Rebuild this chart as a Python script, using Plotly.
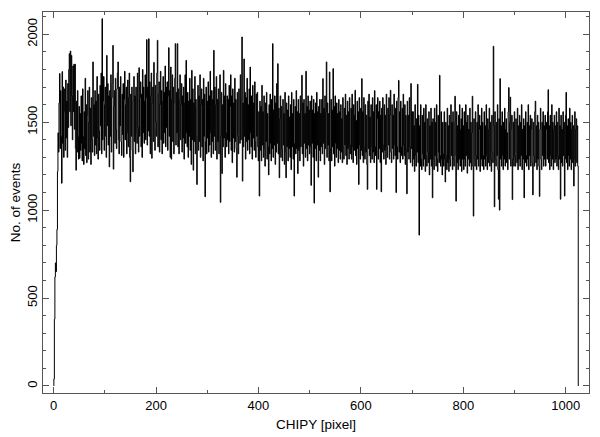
import numpy as np
import plotly.graph_objects as go

# counts per CHIPY pixel (1..1024), read/
counts = [
    40, 380, 620, 700, 650, 800, 890, 1220, 1440, 1330, 1610, 1777, 1350, 1680, 1420, 1153, 1788, 1380, 1700, 1300,
    1560, 1690, 1340, 1740, 1410, 1620, 1300, 1720, 1470, 1800, 1890, 1560, 1905, 1480, 1880, 1650, 1400, 1820, 1560, 1830,
    1460, 1830, 1350, 1227, 1620, 1330, 1680, 1420, 1290, 1590, 1295, 1550, 1340, 1650, 1380, 1280, 1690, 1420, 1260, 1560,
    1350, 1750, 1310, 1600, 1270, 1540, 1680, 1290, 1500, 1700, 1330, 1580, 1260, 1640, 1400, 1330, 1843, 1420, 1600, 1310,
    1680, 1370, 1620, 1320, 1760, 1410, 1290, 1660, 1450, 1340, 1710, 1480, 1780, 1320, 2089, 1400, 1620, 1760, 1340, 1600,
    1700, 1420, 1300, 1880, 1480, 1720, 1370, 1650, 1246, 1680, 1420, 1770, 1330, 1640, 1720, 1937, 1233, 1590, 1680, 1380,
    1750, 1460, 1350, 1690, 1780, 1843, 1400, 1320, 1700, 1480, 1760, 1390, 1310, 1660, 1430, 1720, 1300, 1630, 1790, 1400,
    1600, 1700, 1320, 1440, 1740, 1360, 1640, 1780, 1300, 1161, 1660, 1420, 1700, 1340, 1218, 1620, 1760, 1390, 1650, 1320,
    1700, 1440, 1380, 1780, 1470, 1330, 1810, 1420, 1640, 1730, 1360, 1660, 1300, 1800, 1440, 1700, 1380, 1620, 1770, 1400,
    1640, 1970, 1370, 1700, 1450, 1975, 1420, 1730, 1320, 1650, 1780, 1295, 1610, 1700, 1390, 1840, 1460, 1340, 1710, 1500,
    1420, 1780, 1966, 1360, 1660, 1730, 1330, 1600, 1790, 1400, 1680, 1320, 1620, 1760, 1380, 1670, 1440, 1820, 1360, 1700,
    1470, 1730, 1340, 1650, 1924, 1420, 1680, 1300, 1814, 1290, 1630, 1770, 1390, 1700, 1320, 1610, 1750, 1947, 1370, 1670,
    1440, 1947, 1360, 1690, 1320, 1630, 1770, 1400, 1600, 1720, 1330, 1650, 1410, 1700, 1290, 1610, 1770, 1380, 1852, 1440,
    1360, 1670, 1300, 1620, 1420, 1750, 1340, 1630, 1260, 1795, 1400, 1690, 1227, 1610, 1390, 1760, 1320, 1630, 1420, 1146,
    1580, 1710, 1340, 1650, 1390, 1770, 1300, 1600, 1690, 1360, 1630, 1280, 1750, 1420, 1660, 1076, 1390, 1700, 1320, 1620,
    1410, 1730, 1330, 1650, 1370, 1790, 1440, 1300, 1680, 1390, 1630, 1320, 1909, 1420, 1700, 1340, 1600, 1760, 1290, 1630,
    1390, 1690, 1320, 1610, 1770, 1044, 1420, 1670, 1208, 1600, 1360, 1795, 1410, 1650, 1300, 1720, 1440, 1360, 1650, 1400,
    1630, 1320, 1710, 1390, 1590, 1770, 1340, 1650, 1270, 1690, 1410, 1610, 1330, 1750, 1390, 1630, 1350, 1187, 1670, 1420,
    1320, 1690, 1440, 1380, 1770, 1400, 1630, 1985, 1165, 1610, 1360, 1860, 1420, 1670, 1290, 1640, 1390, 1750, 1340, 1600,
    1400, 1690, 1320, 1814, 1440, 1360, 1650, 1290, 1710, 1410, 1610, 1340, 1730, 1390, 1300, 1660, 1420, 1670, 1360, 1280,
    1560, 1080, 1620, 1340, 1590, 1280, 1710, 1370, 1560, 1300, 1650, 1350, 1250, 1610, 1390, 1670, 1290, 1550, 1360, 1200,
    1600, 1320, 1660, 1380, 1280, 1630, 1350, 1947, 1300, 1570, 1370, 1650, 1260, 1610, 1330, 1720, 1380, 1833, 1320, 1580,
    1184, 1520, 1650, 1300, 1590, 1350, 1280, 1630, 1370, 1550, 1260, 1670, 1330, 1184, 1610, 1360, 1570, 1280, 1650, 1350,
    1530, 1300, 1600, 1230, 1670, 1360, 1550, 1290, 1630, 1080, 1380, 1590, 1320, 1680, 1350, 1560, 1208, 1630, 1340, 1550,
    1280, 1650, 1360, 1570, 1767, 1320, 1610, 1250, 1630, 1380, 1550, 1300, 1790, 1350, 1590, 1280, 1650, 1370, 1570, 1320,
    1620, 1360, 1141, 1650, 1380, 1570, 1300, 1630, 1040, 1550, 1350, 1610, 1280, 1670, 1370, 1560, 1187, 1590, 1340, 1630,
    1280, 1550, 1360, 1630, 1320, 1748, 1380, 1580, 1260, 1650, 1350, 1560, 1843, 1300, 1610, 1370, 1550, 1280, 1786, 1104,
    1350, 1630, 1280, 1570, 1360, 1805, 1320, 1590, 1250, 1650, 1380, 1300, 1610, 1350, 1550, 1270, 1630, 1340, 1560, 1290,
    1600, 1330, 1520, 1270, 1640, 1360, 1290, 1580, 1370, 1660, 1310, 1540, 1260, 1620, 1350, 1560, 1290, 1640, 1370, 1320,
    1580, 1290, 1660, 1360, 1270, 1600, 1340, 1540, 1682, 1310, 1510, 1260, 1620, 1350, 1560, 1146, 1640, 1370, 1290, 1580,
    1340, 1748, 1310, 1560, 1270, 1640, 1360, 1290, 1600, 1330, 1540, 1260, 1118, 1620, 1350, 1660, 1310, 1530, 1270, 1600,
    1360, 1290, 1640, 1330, 1560, 1270, 1680, 1360, 1310, 1600, 1118, 1520, 1640, 1290, 1560, 1350, 1620, 1270, 1540, 1104,
    1580, 1330, 1640, 1370, 1290, 1600, 1340, 1540, 1260, 1660, 1360, 1300, 1580, 1370, 1640, 1290, 1540, 1682, 1330, 1270,
    1600, 1350, 1540, 1290, 1660, 1370, 1310, 1580, 1100, 1620, 1360, 1290, 1640, 1738, 1330, 1560, 1270, 1620, 1360, 1310,
    1580, 1290, 1660, 1370, 1310, 1600, 1260, 1540, 1350, 1093, 1620, 1330, 1540, 1290, 1640, 1360, 1270, 1720, 1350, 1560,
    1250, 1560, 1290, 1480, 1220, 1600, 1310, 1250, 1520, 1330, 1716, 1270, 1540, 858, 1480, 1250, 1600, 1290, 1230, 1540,
    1320, 1250, 1580, 1290, 1500, 1220, 1600, 1310, 1250, 1520, 1330, 1270, 1560, 1200, 1480, 1290, 1580, 1250, 1500, 1070,
    1520, 1290, 1230, 1580, 1310, 1500, 1250, 1600, 1290, 1220, 1540, 1330, 1270, 1767, 1310, 1250, 1560, 1290, 1200, 1500,
    1320, 1250, 1560, 1290, 1160, 1500, 1310, 1230, 1580, 1270, 1480, 1220, 1540, 1290, 1250, 1600, 1310, 1500, 1230, 1560,
    1290, 1250, 1500, 1648, 1310, 1051, 1560, 1270, 1480, 1230, 1540, 1290, 1600, 1250, 1460, 1520, 1220, 1580, 1290, 1480,
    1230, 1560, 1290, 1250, 1600, 1310, 1500, 1210, 1540, 1290, 1460, 1250, 1580, 1270, 1500, 1230, 1440, 1648, 1250, 966,
    1520, 1290, 1250, 1560, 1310, 1230, 1500, 1290, 1600, 1250, 1460, 1540, 1220, 1480, 1290, 1580, 1250, 1500, 1310, 1230,
    1560, 1290, 1480, 1250, 1600, 1310, 1230, 1520, 1270, 1460, 1580, 1250, 1500, 1290, 1220, 1540, 1330, 1270, 1932, 1480,
    1019, 1560, 1290, 1250, 1500, 1310, 1600, 1230, 1062, 1520, 1000, 1748, 1290, 1480, 1250, 1560, 1310, 1230, 1500, 1290,
    1580, 1250, 1460, 1520, 1270, 1440, 1230, 1560, 1697, 1290, 1500, 1643, 1250, 1460, 1540, 1060, 1290, 1500, 1250, 1560,
    1310, 1250, 1520, 1330, 1270, 1580, 1230, 1480, 1290, 1540, 1250, 1500, 1310, 1600, 1230, 1460, 1290, 1520, 1070, 1480,
    1270, 1560, 1310, 1250, 1500, 1290, 1600, 1230, 1480, 1310, 1540, 1250, 1460, 1520, 1270, 1087, 1500, 1310, 1250, 1560,
    1620, 1270, 1480, 1230, 1540, 1290, 1500, 1250, 1078, 1460, 1580, 1290, 1230, 1500, 1310, 1560, 1250, 1480, 1290, 1540,
    1250, 1460, 1500, 1290, 1560, 1685, 1270, 1480, 1230, 1540, 1310, 1250, 1600, 1290, 1500, 1230, 1460, 1540, 1270, 1480,
    1290, 1560, 1250, 1500, 1310, 1230, 1580, 1290, 1480, 1062, 1540, 1270, 1460, 1250, 1560, 1310, 1500, 1080, 1290, 1540,
    1670, 1270, 1480, 1230, 1520, 1310, 1250, 1580, 1290, 1500, 1230, 1460, 1540, 1270, 1480, 1137, 1290, 1560, 1250, 1460,
    1520, 1270, 1480, 1250,
]
pixels = np.arange(1, len(counts) + 1)

x_tickvals = [0, 200, 400, 600, 800, 1000]
y_tickvals = [0, 500, 1000, 1500, 2000]

# step-histogram outline: rise from 0 at the first bin edge, drop to 0 after the last
x_step = np.concatenate([[pixels[0] - 0.5], pixels - 0.5, [pixels[-1] + 0.5, pixels[-1] + 0.5]])
y_step = np.concatenate([[0], counts, [counts[-1], 0]])

fig = go.Figure(go.Scatter(
    x=x_step, y=y_step, mode="lines", line_shape="hv",
    line=dict(color="black", width=1), hoverinfo="skip", showlegend=False,
))

font = "Liberation Sans, Arial, Helvetica, sans-serif"
axis_common = dict(
    showline=True, linecolor="#555", linewidth=1.2, mirror="ticks",
    ticks="inside", ticklen=6, tickcolor="#555", tickwidth=1,
    showgrid=False, zeroline=False, automargin=False,
    tickfont=dict(family=font, size=13, color="black"),
)

# margins compensate for the page's default 8px body offset
fig.update_layout(
    width=600, height=437,
    margin=dict(l=35, r=19, t=4, b=52),
    paper_bgcolor="white", plot_bgcolor="white",
    font=dict(family=font, size=13, color="black"),
    xaxis=dict(
        range=[-20.7, 1045.5], tickvals=x_tickvals, ticktext=[str(v) for v in x_tickvals],
        minor=dict(dtick=100, ticks="inside", ticklen=3, tickcolor="#555"),
        title=dict(text="CHIPY [pixel]", font=dict(family=font, size=13.5), standoff=7),
        **axis_common,
    ),
    yaxis=dict(
        range=[-40, 2127], tickvals=y_tickvals, ticktext=[str(v) for v in y_tickvals],
        tickangle=-90,
        minor=dict(dtick=100, ticks="inside", ticklen=3, tickcolor="#555"),
        title=dict(text="No. of events", font=dict(family=font, size=13.5), standoff=6),
        **axis_common,
    ),
)

fig.write_html("out.html")
